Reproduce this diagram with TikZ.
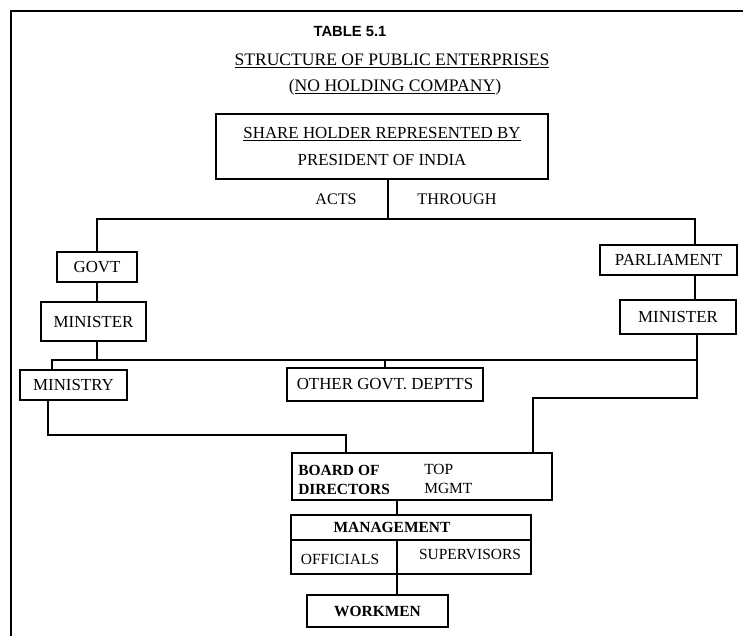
\documentclass[tikz,border=0pt]{standalone}
\usepackage{fontspec}
\setmainfont{Liberation Serif}
\newfontfamily\tabfont{Liberation Sans}
\usetikzlibrary{positioning,calc}

\begin{document}
\begin{tikzpicture}[x=0.025cm,y=-0.025cm,
  box/.style={draw,line width=1.1pt,inner sep=0pt},
  wh/.style 2 args={minimum width=#1*0.025cm,minimum height=#2*0.025cm},
  lbl/.style={inner sep=0pt,font=\fontsize{12}{14}\selectfont},
  small/.style={inner sep=0pt,font=\fontsize{11}{13}\selectfont},
  conn/.style={line width=0.8pt}]
\useasboundingbox (0,0) rectangle (743,636);
% frame of the table
\draw[line width=1pt] (743,11) -- (11,11) -- (11,636);
% titles
\node[inner sep=0pt,font=\tabfont\bfseries\fontsize{10.5}{12}\selectfont] (tab) at (350,31) {TABLE 5.1};
\node[inner sep=0pt,font=\fontsize{12.5}{14}\selectfont] (title) at (392,61) {\underline{STRUCTURE OF PUBLIC ENTERPRISES}};
\node[inner sep=0pt,font=\fontsize{12.5}{14}\selectfont] (sub) at (395,87) {(\underline{NO HOLDING COMPANY})};
% boxes
\node[box,wh={332}{65},lbl,align=center] (share) at (382,146.5) {\underline{SHARE HOLDER REPRESENTED BY}\\[5pt]PRESIDENT OF INDIA};
\node[lbl,font=\fontsize{11.5}{13}\selectfont] (acts) at (336,199) {ACTS};
\node[lbl,font=\fontsize{11.5}{13}\selectfont] (through) at (457,199) {THROUGH};
\node[box,wh={80}{30},lbl] (govt) at (97,267) {GOVT};
\node[box,wh={105}{39},lbl] (minL) at (93.5,321.5) {MINISTER};
\node[box,wh={137}{30},lbl] (parl) at (668.5,260) {PARLIAMENT};
\node[box,wh={116}{34},lbl] (minR) at (678,317) {MINISTER};
\node[box,wh={107}{30},lbl] (ministry) at (73.5,385) {MINISTRY};
\node[box,wh={196}{33},lbl] (other) at (385,384.5) {OTHER GOVT. DEPTTS};
\node[box,wh={260}{47}] (board) at (422,476.5) {};
\node[small,font=\bfseries\fontsize{11}{13}\selectfont,align=left,anchor=west] (bod) at (298,480) {BOARD OF\\[1pt]DIRECTORS};
\node[small,align=left,anchor=west] (topm) at (424,479) {TOP\\[1pt]MGMT};
\node[box,wh={240}{59}] (mgmt) at (411,544.5) {};
\node[small,font=\bfseries\fontsize{11}{13}\selectfont] (mgmtl) at (392,527) {MANAGEMENT};
\node[small] (off) at (340,559) {OFFICIALS};
\node[small] (sup) at (470,554) {SUPERVISORS};
\node[box,wh={141}{32},small,font=\bfseries\fontsize{11}{13}\selectfont] (workmen) at (377.5,611) {WORKMEN};
% bus points
\coordinate (busC) at (388,219);
\coordinate (busL) at (97,219);
\coordinate (busR) at (695,219);
\coordinate (jL) at (97,360);
\coordinate (midL) at (52,360);
\coordinate (midR) at (697,360);
\coordinate (turnR) at (697,398);
\coordinate (inR) at (533,398);
\coordinate (turnL) at (48,435);
\coordinate (inL) at (346,435);
\coordinate (colM) at (397,540);
% connectors
\draw[conn] (share.south -| busC) -- (busC);
\draw[conn] (govt.north) -- (busL) -- (busR) -- (busR |- parl.north);
\draw[conn] (govt.south) -- (govt.south |- minL.north);
\draw[conn] (busR |- parl.south) -- (busR |- minR.north);
\draw[conn] (minL.south -| jL) -- (jL);
\draw[conn] (midL |- ministry.north) -- (midL) -- (midR);
\draw[conn] (other.north) -- (other.north |- midL);
\draw[conn] (minR.south -| turnR) -- (turnR) -- (inR) -- (inR |- board.north);
\draw[conn] (turnL |- ministry.south) -- (turnL) -- (inL) -- (inL |- board.north);
\draw[conn] (board.south -| colM) -- (mgmt.north -| colM);
\draw[box] (mgmt.west |- colM) -- (mgmt.east |- colM);
\draw[box] (colM) -- (colM |- mgmt.south);
\draw[conn] (colM |- mgmt.south) -- (colM |- workmen.north);
\end{tikzpicture}
\end{document}
